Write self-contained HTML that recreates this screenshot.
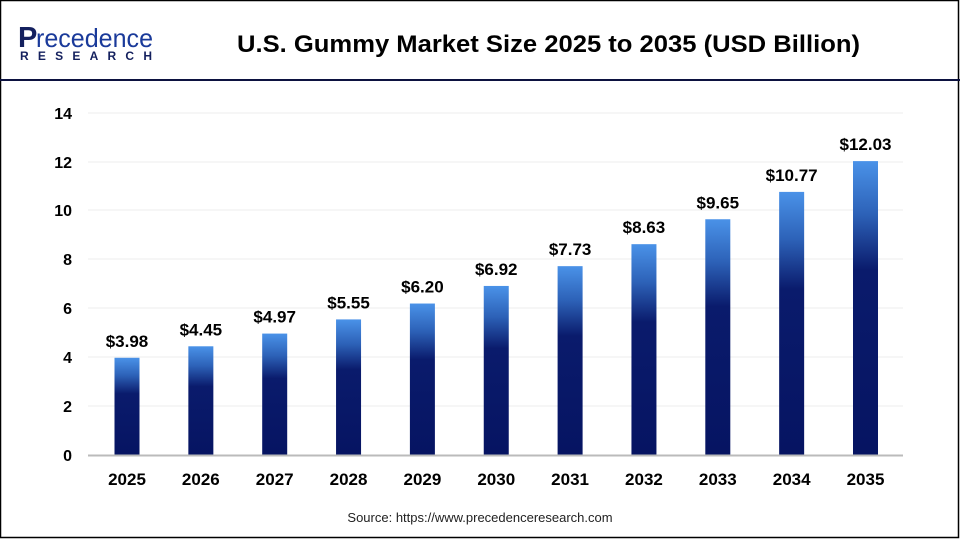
<!DOCTYPE html>
<html><head><meta charset="utf-8"><style>
html,body{margin:0;padding:0;background:#fff}
svg{display:block}
text{font-family:"Liberation Sans",Arial,sans-serif}
</style></head><body>
<svg width="960" height="540" viewBox="0 0 960 540" xmlns="http://www.w3.org/2000/svg">
<defs>
<linearGradient id="g" x1="0" y1="0" x2="0" y2="1">
<stop offset="0" stop-color="#4a92e8"/>
<stop offset="0.18" stop-color="#2d62b8"/>
<stop offset="0.37" stop-color="#0a1b6c"/>
<stop offset="1" stop-color="#061462"/>
</linearGradient>
</defs>
<rect x="0.5" y="0.5" width="958" height="537" fill="#fff" stroke="#000" stroke-width="1.5"/>
<line x1="0" y1="80" x2="960" y2="80" stroke="#0c1240" stroke-width="2"/>
<text x="18" y="47" font-size="29" fill="#14205e" font-weight="bold">P</text>
<text x="36" y="47" font-size="26" fill="#1a3a9a" textLength="117" lengthAdjust="spacingAndGlyphs">recedence</text>
<text x="20" y="60" font-size="12" fill="#14205e" font-weight="bold" textLength="132" lengthAdjust="spacing">RESEARCH</text>
<text x="237" y="52" font-size="24" font-weight="bold" fill="#000" textLength="623" lengthAdjust="spacingAndGlyphs">U.S. Gummy Market Size 2025 to 2035 (USD Billion)</text>
<g stroke="#ececec" stroke-width="1">
<line x1="88" y1="113" x2="903" y2="113"/>
<line x1="88" y1="162" x2="903" y2="162"/>
<line x1="88" y1="210" x2="903" y2="210"/>
<line x1="88" y1="259" x2="903" y2="259"/>
<line x1="88" y1="308" x2="903" y2="308"/>
<line x1="88" y1="357" x2="903" y2="357"/>
<line x1="88" y1="406" x2="903" y2="406"/>
</g>
<g font-size="16" font-weight="bold" fill="#000" text-anchor="end">
<text x="72" y="119">14</text><text x="72" y="168">12</text><text x="72" y="216">10</text>
<text x="72" y="265">8</text><text x="72" y="314">6</text><text x="72" y="363">4</text>
<text x="72" y="412">2</text><text x="72" y="461">0</text>
</g>
<g id="bars"></g>
<line x1="88" y1="455.5" x2="903" y2="455.5" stroke="#bbb" stroke-width="2"/>
<text x="480" y="522" font-size="13" fill="#222" text-anchor="middle">Source: https://www.precedenceresearch.com</text>
<script>
var v=[3.98,4.45,4.97,5.55,6.20,6.92,7.73,8.63,9.65,10.77,12.03],ns="http://www.w3.org/2000/svg";
var g=document.getElementById("bars");
v.forEach(function(d,i){var c=127+73.85*i,h=d*24.43,y=455-h;
var r=document.createElementNS(ns,"rect");r.setAttribute("x",c-12.5);r.setAttribute("y",y);r.setAttribute("width",25);r.setAttribute("height",h);r.setAttribute("fill","url(#g)");g.appendChild(r);
var t=document.createElementNS(ns,"text");t.setAttribute("x",c);t.setAttribute("y",y-11);t.setAttribute("text-anchor","middle");t.setAttribute("font-size","17");t.setAttribute("font-weight","bold");t.textContent="$"+d.toFixed(2);g.appendChild(t);
var u=document.createElementNS(ns,"text");u.setAttribute("x",c);u.setAttribute("y",485);u.setAttribute("text-anchor","middle");u.setAttribute("font-size","17");u.setAttribute("font-weight","bold");u.textContent=2025+i;g.appendChild(u);});
</script>
</svg>
</body></html>
